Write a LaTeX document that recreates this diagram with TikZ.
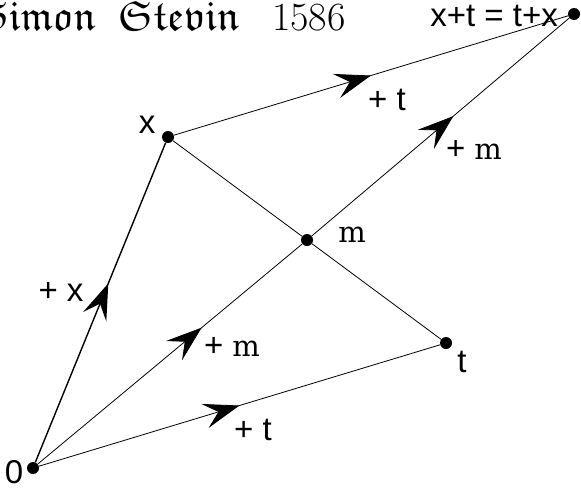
\documentclass[tikz,border=0pt]{standalone}
\usepackage{amssymb}
\usepackage{fontspec}
\newfontfamily\lblfont{Liberation Sans}
\newfontfamily\mfont{DejaVu Serif}
\newcommand{\mm}{{\mfont\fontsize{29}{32}\selectfont m}}
\usetikzlibrary{arrows.meta,decorations.markings}
\begin{document}
\begin{tikzpicture}[x=1pt,y=-1pt,
  pt/.style={circle,fill=black,inner sep=0pt,minimum size=12pt},
  lbl/.style={font=\lblfont\fontsize{33}{38}\selectfont,inner sep=0pt},
  ttl/.style={inner sep=0pt,font=\fontsize{42}{46}\selectfont},
  seg/.style={line width=0.8pt},
  thickseg/.style={line width=1.4pt},
  arr/.style={postaction={decorate},decoration={markings,
     mark=at position #1 with {\arrow{Stealth[length=36pt,width=25pt,inset=14pt]}}}}
  ]
\useasboundingbox (0,0) rectangle (581,490);
\node[pt] (o) at (33,468) {};
\node[pt] (x) at (168,137) {};
\node[pt] (m) at (307,240) {};
\node[pt] (t) at (446,343) {};
\node[pt] (s) at (574,14) {};
% labels
\node[lbl] (lo) at (14,472) {0};
\node[lbl] (lx) at (147,125) {x};
\node[lbl] (lm) at (352,235) {\mm};
\node[lbl] (lt) at (462,362) {t};
\node[lbl,anchor=east] (ls) at (558,16) {x+t = t+x};
\node[lbl] (px) at (61,292) {+ x};
\node[lbl] (pm1) at (232,347) {+ \mm};
\node[lbl] (pt1) at (253,430) {+ t};
\node[lbl] (pt2) at (387,100) {+ t};
\node[lbl] (pm2) at (474,150) {+ \mm};
% title
\node[ttl,anchor=base east] (t1) at (96,30) {$\mathfrak{Simon}$};
\node[ttl,anchor=base west] (t2) at (118,30) {$\mathfrak{Stevin}$};
\node[inner sep=0pt,anchor=base west,font=\rmfamily\fontsize{40}{44}\selectfont] (t3) at (272,30) {1586};
% connectors
\draw[thickseg,arr=0.56] (o) -- (x);
\draw[seg,arr=0.62] (o) -- (m);
\draw[seg,arr=0.5] (o) -- (t);
\draw[seg,arr=0.5] (x) -- (s);
\draw[seg,arr=0.55] (m) -- (s);
\draw[seg] (x) -- (m);
\draw[seg] (m) -- (t);
\end{tikzpicture}
\end{document}
